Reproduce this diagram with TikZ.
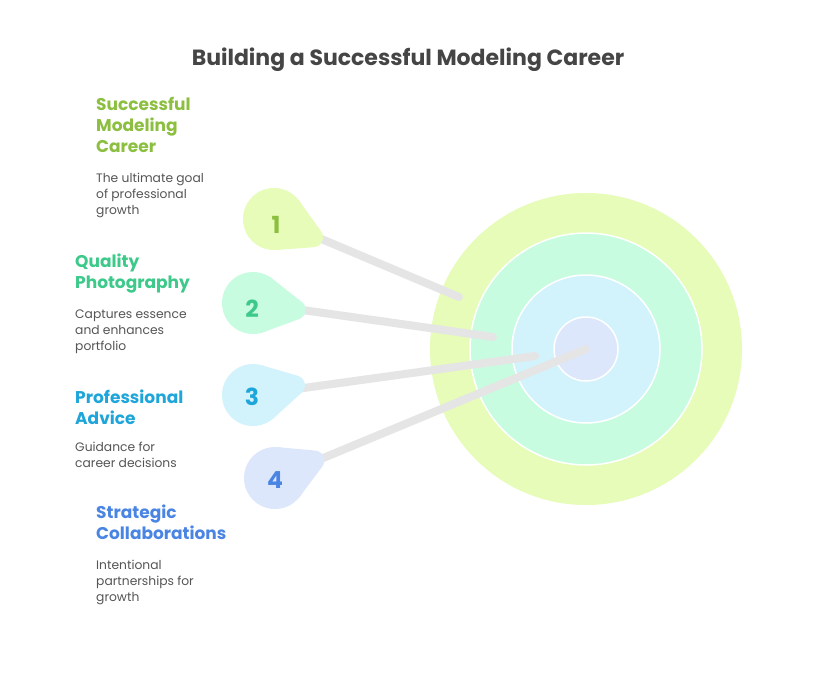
\documentclass[tikz,border=0pt]{standalone}
\usepackage{fontspec}
\setmainfont{Poppins}
\usetikzlibrary{calc}
\definecolor{titlec}{HTML}{454545}
\definecolor{descc}{HTML}{555555}
\definecolor{headA}{HTML}{8CBF3F}
\definecolor{headB}{HTML}{3CC98A}
\definecolor{headC}{HTML}{1EA6DA}
\definecolor{headD}{HTML}{4A85E3}
\definecolor{fillA}{HTML}{E6FCB8}
\definecolor{fillB}{HTML}{C8FCE1}
\definecolor{fillC}{HTML}{D3F3FC}
\definecolor{fillD}{HTML}{DDE7FC}
\definecolor{stickc}{HTML}{E5E5E5}
% pin: hull of a circle (r=31) at the centre and a small circle (r=10) towards the stick
\newcommand{\drawpin}[3]{%
  \fill[#3] (#1) circle (31pt);
  \filldraw[fill=#3, draw=#3, line width=20pt, line join=round]
    ($(#1)+(#2:43)$) -- ($(#1)+(#2+61:21)$) -- ($(#1)+(#2-61:21)$) -- cycle;
}
\tikzset{
  ring/.style={circle, inner sep=0pt, draw=white, line width=1.5pt},
  stickline/.style={draw=stickc, line width=8pt, line cap=round},
  numtxt/.style={font=\fontsize{23.5}{23.5}\selectfont\bfseries, inner sep=0pt},
  headtxt/.style={font=\fontsize{17}{21}\selectfont\bfseries, align=left, anchor=base west, inner sep=0pt},
  desctxt/.style={font=\fontsize{12.3}{16}\selectfont, text=descc, align=left, anchor=base west, inner sep=0pt},
}
\begin{document}
\begin{tikzpicture}[x=1pt,y=-1pt]
\useasboundingbox[fill=white] (0,0) rectangle (816,672);
% title
\node[font=\fontsize{22}{22}\selectfont\bfseries, text=titlec, anchor=base, inner sep=0pt] (title) at (408,65) {Building a Successful Modeling Career};
% target
\node[ring, minimum size=312, fill=fillA, draw=none] (ringA) at (586,349) {};
\node[ring, minimum size=232, fill=fillB] (ringB) at (586,349) {};
\node[ring, minimum size=148, fill=fillC] (ringC) at (586,349) {};
\node[ring, minimum size=64, fill=fillD] (ringD) at (586,349) {};
% pins positions
\coordinate (pin1) at (274,219);
\coordinate (pin2) at (253,303);
\coordinate (pin3) at (253,395);
\coordinate (pin4) at (275,478);
\coordinate (hit1) at (459,297);
\coordinate (hit2) at (493,337);
\coordinate (hit3) at (535,356);
% sticks
\draw[stickline] (pin1) -- (hit1);
\draw[stickline] (pin2) -- (hit2);
\draw[stickline] (pin3) -- (hit3);
\draw[stickline] (pin4) -- (ringD.center);
% pins
\drawpin{pin1}{25}{fillA}
\drawpin{pin2}{9}{fillB}
\drawpin{pin3}{-13}{fillC}
\drawpin{pin4}{-24}{fillD}
\node[numtxt, text=headA] (n1) at ($(pin1)+(2,6)$) {1};
\node[numtxt, text=headB] (n2) at ($(pin2)+(-1,6)$) {2};
\node[numtxt, text=headC] (n3) at ($(pin3)+(-1,2)$) {3};
\node[numtxt, text=headD] (n4) at ($(pin4)+(0,2)$) {4};
% labels (base anchor = last line baseline)
\node[headtxt, text=headA] (h1) at (96,152) {Successful\\Modeling\\Career};
\node[desctxt] (d1) at (96,214) {The ultimate goal\\of professional\\growth};
\node[headtxt, text=headB] (h2) at (75,288) {Quality\\Photography};
\node[desctxt] (d2) at (75,350) {Captures essence\\and enhances\\portfolio};
\node[headtxt, text=headC] (h3) at (75,424) {Professional\\Advice};
\node[desctxt] (d3) at (75,467) {Guidance for\\career decisions};
\node[headtxt, text=headD] (h4) at (96,539) {Strategic\\Collaborations};
\node[desctxt] (d4) at (96,601) {Intentional\\partnerships for\\growth};
\end{tikzpicture}
\end{document}
